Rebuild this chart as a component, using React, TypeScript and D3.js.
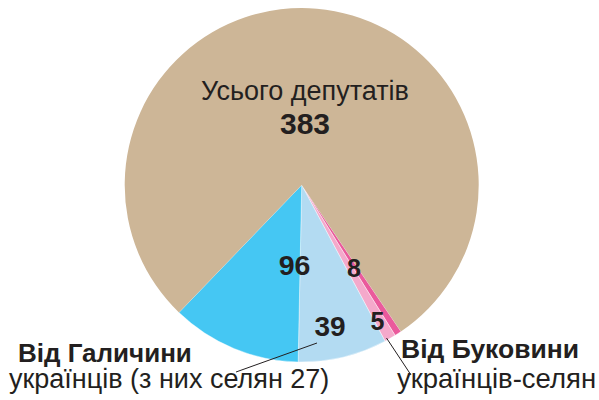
import React from "react";
import * as d3 from "d3";

const sliceNames = ["magenta", "lightPink", "lightBlue", "darkBlue", "rest"];
const sliceValues = [3, 5, 39, 57, 376];
const sliceColors = ["#ea5a9c", "#f4a9cb", "#b3dbf2", "#45c7f3", "#cdb697"];
const sliceLabels = ["8", "5", "39", "96", ""];
const totalLabel = "383";
const totalTitle = "Усього депутатів";
const galiciaTitle = "Від Галичини";
const galiciaSub = "українців (з них селян 27)";
const bukovinaTitle = "Від Буковини";
const bukovinaSub = "українців-селян";

const W = 599;
const H = 400;
const cx = 301.7;
const cy = 185;
const R = 177;
const startDeg = 145.9;

export default function App() {
  const pie = d3
    .pie<number>()
    .sort(null)
    .value((d) => d)
    .startAngle((startDeg * Math.PI) / 180)
    .endAngle(((startDeg + 360) * Math.PI) / 180);
  const arcs = pie(sliceValues);
  const arc = d3.arc<d3.PieArcDatum<number>>().innerRadius(0).outerRadius(R);

  // label positions (polar: angle deg, radius, font size)
  const labelPos: Record<string, [number, number, number]> = {
    magenta: [147.8, 98, 25],
    lightPink: [150.9, 155.7, 25],
    lightBlue: [168.7, 144.5, 28],
    darkBlue: [185.1, 80.8, 28.5],
  };
  const pt = (deg: number, r: number) => {
    const a = (deg * Math.PI) / 180;
    return [cx + r * Math.sin(a), cy - r * Math.cos(a)];
  };
  const font = "'Liberation Sans', Arial, Helvetica, sans-serif";
  const textColor = "#231f20";

  return (
    <svg width={W} height={H} style={{ position: "absolute", left: 0, top: 0 }}>
      <g>
        {arcs.map((a, i) => (
          <path
            key={sliceNames[i]}
            d={arc(a) || ""}
            transform={`translate(${cx},${cy})`}
            fill={sliceColors[i]}
            stroke={i === 4 ? "none" : "#ffffff"}
            strokeWidth={i === 4 ? 0 : 0.4}
          />
        ))}
        {sliceNames.map((n, i) => {
          if (!labelPos[n]) return null;
          const [x, y] = pt(labelPos[n][0], labelPos[n][1]);
          return (
            <text
              key={"l" + n}
              x={x}
              y={y}
              textAnchor="middle"
              dominantBaseline="central"
              fontFamily={font}
              fontWeight="bold"
              fontSize={labelPos[n][2]}
              fill={textColor}
            >
              {sliceLabels[i]}
            </text>
          );
        })}
        <text x={305} y={100} textAnchor="middle" fontFamily={font} fontSize={27} fill={textColor}>
          {totalTitle}
        </text>
        <text x={305} y={134} textAnchor="middle" fontFamily={font} fontSize={30} fontWeight="bold" fill={textColor}>
          {totalLabel}
        </text>
        <line x1={317} y1={343} x2={236} y2={372} stroke={textColor} strokeWidth={1} />
        <line x1={386.5} y1={338} x2={411} y2={375} stroke={textColor} strokeWidth={1} />
        <text x={18} y={362} fontFamily={font} fontSize={26} fontWeight="bold" fill={textColor}>
          {galiciaTitle}
        </text>
        <text x={9} y={388} fontFamily={font} fontSize={27} fill={textColor}>
          {galiciaSub}
        </text>
        <text x={401} y={357.5} fontFamily={font} fontSize={26.5} fontWeight="bold" fill={textColor}>
          {bukovinaTitle}
        </text>
        <text x={397} y={388} fontFamily={font} fontSize={27.5} fill={textColor}>
          {bukovinaSub}
        </text>
      </g>
    </svg>
  );
}
